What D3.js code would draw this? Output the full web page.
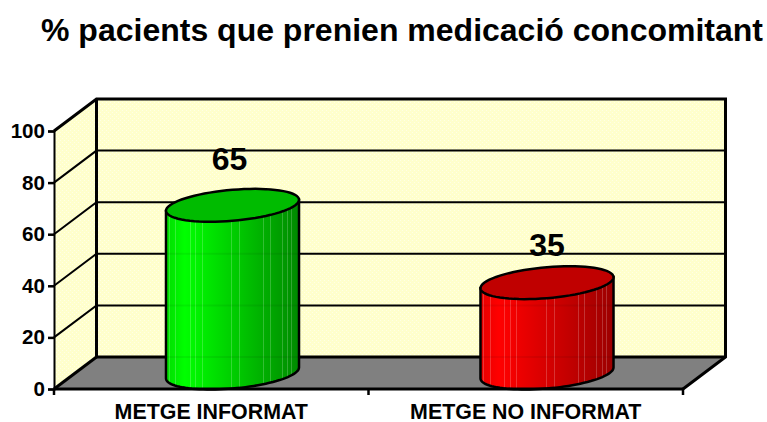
<!DOCTYPE html>
<html>
<head>
<meta charset="utf-8">
<script src="https://cdn.jsdelivr.net/npm/d3@7"></script>
<style>
  html, body { margin: 0; padding: 0; background: #fff; overflow: hidden; }
  text { font-family: "Liberation Sans", Arial, sans-serif; font-weight: bold; fill: #000; }
</style>
</head>
<body>
<script>
// chart data
var titleText = "% pacients que prenien medicació concomitant";
var categories = ["METGE INFORMAT", "METGE NO INFORMAT"];
var values = [65, 35];
var yTicks = [0, 20, 40, 60, 80, 100];

// layout of the fake 3d box
var width = 767, height = 422;
var frontLeft = 54, frontRight = 683, frontBottom = 389, frontTop = 131;
var depthX = 42.5, depthY = -32;
var barShare = 0.423;      //cylinder width as part of the band
var tiltY = 5.5, lidY = 15.5;
var labelLift = [35, 27];  //labels were moved by hand in the original
var labelShift = [-3, 0];

var sideColors = [["#00dc00", "#00ff00", "#008a00"], ["#e60000", "#ff0000", "#9c0000"]];
var lidColors = ["#00bb00", "#c00000"];
var stripes = [0.02, 0.07, 0.18, 0.22, 0.27, 0.49, 0.55, 0.73, 0.78, 0.87, 0.91, 0.94];

var x = d3.scaleBand().domain(categories).range([frontLeft, frontRight]);
var y = d3.scaleLinear().domain([0, 100]).range([frontBottom, frontTop]);

var svg = d3.select("body").append("svg").attr("width", width).attr("height", height);
var defs = svg.append("defs");

// dither on the walls
var wallPattern = defs.append("pattern").attr("id", "wall")
  .attr("patternUnits", "userSpaceOnUse").attr("width", 4).attr("height", 4);
wallPattern.append("rect").attr("width", 4).attr("height", 4).attr("fill", "#ffffcc");
wallPattern.append("rect").attr("x", 0).attr("y", 0).attr("width", 1).attr("height", 1).attr("fill", "#ffffe6");
wallPattern.append("rect").attr("x", 2).attr("y", 2).attr("width", 1).attr("height", 1).attr("fill", "#ffffe6");

var poly = d3.line().curve(d3.curveLinearClosed);

// walls and floor
var backLeft = frontLeft + depthX, backRight = frontRight + depthX;
var backBottom = y(0) + depthY, backTop = y(100) + depthY;

svg.append("path").attr("fill", "url(#wall)")
  .attr("d", poly([[backLeft, backTop], [backRight, backTop], [backRight, backBottom], [backLeft, backBottom]]));
svg.append("path").attr("fill", "url(#wall)")
  .attr("d", poly([[frontLeft, y(100)], [backLeft, backTop], [backLeft, backBottom], [frontLeft, y(0)]]));
svg.append("path").attr("fill", "#808080")
  .attr("d", poly([[frontLeft, y(0)], [backLeft, backBottom], [backRight, backBottom], [frontRight, y(0)]]));

// grid lines, both walls
var grid = svg.append("g").attr("fill", "none").attr("stroke", "#000");
grid.selectAll("path.grid").data(yTicks.filter(function(d) { return d > 0 && d < 100; }))
  .enter().append("path").attr("class", "grid").attr("stroke-width", 2)
  .attr("d", function(d)
    {
    return d3.line()([[frontLeft, y(d)], [backLeft, y(d) + depthY], [backRight, y(d) + depthY]]);
    });

// box outline
grid.append("path").attr("stroke-width", 3)
  .attr("d", d3.line()([[frontLeft, y(100)], [backLeft, backTop], [backRight, backTop], [backRight, backBottom], [frontRight, y(0)]]));
grid.append("path").attr("stroke-width", 3)
  .attr("d", d3.line()([[backLeft, backTop], [backLeft, backBottom], [backRight, backBottom]]));
grid.append("path").attr("stroke-width", 3)
  .attr("d", d3.line()([[frontLeft, y(0)], [backLeft, backBottom]]));

// cylinders sit in the middle of the box depth
function ellipsePoint(cx, cy, a, t)
  {
  return [cx + a * Math.cos(t), cy - tiltY * Math.cos(t) + lidY * Math.sin(t)];
  }

categories.forEach(function(cat, i)
  {
  var a = x.bandwidth() * barShare / 2;
  var cx = x(cat) + x.bandwidth() / 2 + depthX / 2;
  var baseY = y(0) + depthY / 2;
  var topY = y(values[i]) + depthY / 2;

  var grad = defs.append("linearGradient").attr("id", "side" + i)
    .attr("gradientUnits", "userSpaceOnUse")
    .attr("x1", cx - a).attr("x2", cx + a).attr("y1", 0).attr("y2", 0);
  grad.append("stop").attr("offset", 0).attr("stop-color", sideColors[i][0]);
  grad.append("stop").attr("offset", 0.14).attr("stop-color", sideColors[i][1]);
  grad.append("stop").attr("offset", 1).attr("stop-color", sideColors[i][2]);

  var body = [[cx - a, topY + tiltY]];
  d3.range(0, 49).forEach(function(k)
    {
    body.push(ellipsePoint(cx, baseY, a, Math.PI - k * Math.PI / 48));
    });
  body.push([cx + a, topY - tiltY]);
  var bodyPath = poly(body);

  defs.append("clipPath").attr("id", "clip" + i).append("path").attr("d", bodyPath);

  var g = svg.append("g");
  g.append("path").attr("d", bodyPath).attr("fill", "url(#side" + i + ")");

  var inner = g.append("g").attr("clip-path", "url(#clip" + i + ")");
  inner.selectAll("line.stripe").data(stripes).enter().append("line")
    .attr("class", "stripe")
    .attr("x1", function(d) { return Math.round(cx - a + d * 2 * a) + 0.5; })
    .attr("x2", function(d) { return Math.round(cx - a + d * 2 * a) + 0.5; })
    .attr("y1", topY - lidY - 8).attr("y2", baseY + lidY + 8)
    .attr("stroke", "#fff").attr("stroke-opacity", 0.2);
  inner.selectAll("line.through").data(yTicks).enter().append("line")
    .attr("class", "through")
    .attr("x1", cx - a).attr("x2", cx + a)
    .attr("y1", function(d) { return y(d) + depthY; })
    .attr("y2", function(d) { return y(d) + depthY; })
    .attr("stroke", "#000").attr("stroke-width", 2).attr("stroke-opacity", 0.06);

  g.append("path").attr("d", bodyPath).attr("fill", "none")
    .attr("stroke", "#000").attr("stroke-width", 2.5);

  var lid = d3.range(0, 72).map(function(k) { return ellipsePoint(cx, topY, a, k * Math.PI / 36); });
  g.append("path").attr("d", poly(lid)).attr("fill", lidColors[i])
    .attr("stroke", "#000").attr("stroke-width", 2.5);

  svg.append("text").attr("text-anchor", "middle")
    .attr("x", cx + labelShift[i]).attr("y", topY - labelLift[i])
    .style("font-size", "32px").text(values[i]);
  });

// axes
var yAxis = d3.axisLeft(y).tickValues(yTicks).tickSize(6).tickPadding(3);
var yG = svg.append("g").attr("transform", "translate(" + frontLeft + ",0)").call(yAxis);
yG.select(".domain").attr("stroke-width", 2);
yG.selectAll(".tick line").attr("stroke-width", 2.5);
yG.selectAll("text").style("font-size", "20.6px");

var xAxis = d3.axisBottom(x).tickSize(0).tickPadding(15);
var xG = svg.append("g").attr("transform", "translate(0," + y(0) + ")").call(xAxis);
xG.select(".domain").remove();
xG.selectAll("text").style("font-size", "21.4px");

svg.append("path").attr("fill", "none").attr("stroke", "#000").attr("stroke-width", 3)
  .attr("d", d3.line()([[frontLeft, y(0)], [frontRight, y(0)]]));
svg.append("g").selectAll("line.edge").data([frontLeft, x(categories[1]), frontRight])
  .enter().append("line").attr("class", "edge")
  .attr("x1", function(d) { return d; }).attr("x2", function(d) { return d; })
  .attr("y1", y(0)).attr("y2", y(0) + 6)
  .attr("stroke", "#000").attr("stroke-width", 2.5);

// title
svg.append("text").attr("text-anchor", "middle").attr("x", 402).attr("y", 41)
  .style("font-size", "32px").text(titleText);
</script>
</body>
</html>
